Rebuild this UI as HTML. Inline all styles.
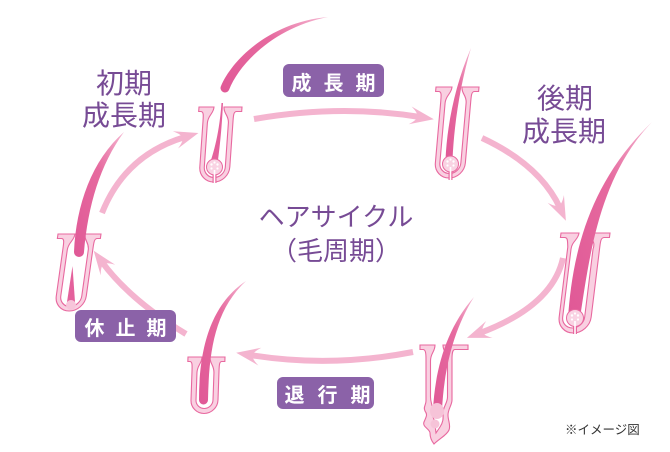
<!DOCTYPE html>
<html><head><meta charset="utf-8">
<style>
html,body{margin:0;padding:0;background:#fff;width:670px;height:452px;overflow:hidden}
svg{display:block}
text{font-family:"Liberation Sans","Noto Sans CJK JP",sans-serif}
</style></head>
<body>
<svg width="670" height="452" viewBox="0 0 670 452" xmlns="http://www.w3.org/2000/svg">
<defs>
  <linearGradient id="hg" x1="0" y1="1" x2="1" y2="0">
    <stop offset="0" stop-color="#e05896"/>
    <stop offset="0.6" stop-color="#e66a9f"/>
    <stop offset="1" stop-color="#f5b6d1"/>
  </linearGradient>
  <marker id="ah" viewBox="0 0 26 20" refX="12" refY="10" markerWidth="26" markerHeight="20" markerUnits="userSpaceOnUse" orient="auto">
    <path d="M26,10 L2,1 Q10,7 9,10 Q10,13 2,19 Z" fill="#f4b4cf" stroke="none"/>
  </marker>
</defs>

<!-- arrows -->
<g fill="none" stroke="#f4b4cf" stroke-width="6" marker-end="url(#ah)">
  <path d="M 102,213 Q 125,155 185,137"/>
  <path d="M 254,119 Q 340,104 420,117"/>
  <path d="M 482,138 Q 540,165 560,208"/>
  <path d="M 563,258 C 555,295 520,318 480,333"/>
  <path d="M 413,352 Q 330,368 250,355"/>
  <path d="M 186,334 Q 130,300 102,262"/>
</g>

<!-- follicle bands -->
<g fill="#f9d0e1" stroke="#e8689f" stroke-width="1.1">
  <g transform="translate(219,107) skewX(-4)">
    <path d="M -20,0 H -5 C -5,7 -10.5,8 -10.5,16 V 60 A 10.5 10.5 0 0 0 10.5,60 V 16 C 10.5,8 5,7 5,0 H 23 V 4.5 H 18 C 15,4.5 15,8 15,14 V 60 A 15 15 0 0 1 -15,60 V 14 C -15,8 -15,4.5 -18,4.5 H -20 Z"/>
  </g>
  <g transform="translate(457,87) skewX(-5)">
    <path d="M -21,0 H -5 C -5,7 -10.5,8 -10.5,16 V 76 A 10.5 10.5 0 0 0 10.5,76 V 16 C 10.5,8 5,7 5,0 H 22 V 4.5 H 18 C 15,4.5 15,8 15,14 V 76 A 15 15 0 0 1 -15,76 V 14 C -15,8 -15,4.5 -18,4.5 H -21 Z"/>
  </g>
  <g transform="translate(585,233) skewX(-7)">
    <path d="M -24,0 H -6 C -6,7 -12,8 -12,16 V 84 A 11 11 0 0 0 10,84 V 16 C 12,8 6,7 6,0 H 25 V 4.5 H 20 C 16.5,4.5 16.5,8 16.5,14 V 84 A 15.5 15.5 0 0 1 -15.5,84 V 14 C -16.5,8 -16.5,4.5 -20,4.5 H -24 Z"/>
  </g>
  <g transform="translate(439,345)">
    <path d="M -19,0 H -4 C -4,7 -8.5,8 -8.5,16 V 52 C -8.5,58 -6,60 -7,65 C -8,70 -4,74 -4,80 L -3,88 L 1,82 C 5,76 4,72 4,68 C 4,62 8.5,58 8.5,52 V 16 C 8.5,8 4,7 4,0 H 29 V 4.5 H 16 C 13.5,4.5 13,8 13,14 V 55 C 13,60 9,64 9,70 C 9,76 12,80 10,85 C 8,90 0,94 -5,99 C -9,94 -9,90 -9,88 C -9,84 -17,82 -15,77 C -13,72 -11,70 -14,66 C -16,62 -13,60 -13,56 V 14 C -13,8 -13.5,4.5 -16,4.5 H -19 Z"/>
  </g>
  <g transform="translate(206,357) skewX(-2)">
    <path d="M -18,0 H -4 C -4,7 -8.5,8 -8.5,16 V 43 A 8.5 8.5 0 0 0 8.5,43 V 16 C 8.5,8 4,7 4,0 H 19 V 4.5 H 16 C 13.5,4.5 13.5,8 13.5,14 V 43 A 13.5 13.5 0 0 1 -13.5,43 V 14 C -13.5,8 -13.5,4.5 -16,4.5 H -18 Z"/>
  </g>
  <g transform="translate(80,234) skewX(-8)">
    <path d="M -22,0 H -5 C -5,7 -10.5,8 -10.5,16 V 62 A 10.5 10.5 0 0 0 10.5,62 V 16 C 10.5,8 5,7 5,0 H 21 V 4.5 H 18 C 15,4.5 15,8 15,14 V 62 A 15 15 0 0 1 -15,62 V 14 C -15,8 -15,4.5 -18,4.5 H -22 Z"/>
  </g>
</g>

<!-- hairs -->
<g fill="url(#hg)">
  <path d="M 221,86 C 232,60 270,22 328,17 C 276,27 240,62 229,90 A 4.2 4.2 0 0 1 221,86 Z"/>
  <path d="M 221.5,103 C 220,125 216,145 211,160 L 218,160 C 220,145 222,125 223,103 Z" fill="#e4619c"/>
  <path d="M 445.5,160 C 447,125 455,85 471,48 C 460,85 454,125 452.5,160 Z"/>
  <path d="M 568,318 C 572,262 585,186 652,122 C 600,176 590,252 580,318 Z"/>
  <path d="M 433,410 C 435,372 445,330 474,297 C 452,332 444,372 442,410 Z"/>
  <path d="M 199,400 C 199,350 210,305 246,281 C 215,310 209,350 208,400 A 4.5 4.5 0 0 1 199,400 Z"/>
  <path d="M 74,252 C 76,205 92,160 124,132 C 100,165 88,205 84,252 A 5 5 0 0 1 74,252 Z"/>
  <path d="M 67,302 L 72.5,266 L 75,302 Z" fill="#e4619c"/>
</g>

<!-- bulbs -->
<g>
  <g transform="translate(214.5,167)">
    <line x1="0" y1="3" x2="0" y2="16" stroke="#e8689f" stroke-width="4"/>
    <circle r="8" fill="#f9d3e3" stroke="#e8689f" stroke-width="1"/>
    <line x1="0" y1="3" x2="0" y2="16" stroke="#fff" stroke-width="1.6"/>
    <g fill="#fff"><circle cx="-3" cy="-2.5" r="1.2"/><circle cx="3" cy="-2.5" r="1.2"/><circle cx="0" cy="-4.5" r="1.1"/><circle cx="-3" cy="1.5" r="1.1"/><circle cx="3" cy="1.5" r="1.1"/></g>
  </g>
  <g transform="translate(450.5,164)">
    <line x1="0" y1="3" x2="0" y2="16" stroke="#e8689f" stroke-width="4"/>
    <circle r="8" fill="#f9d3e3" stroke="#e8689f" stroke-width="1"/>
    <line x1="0" y1="3" x2="0" y2="16" stroke="#fff" stroke-width="1.6"/>
    <g fill="#fff"><circle cx="-3" cy="-2.5" r="1.2"/><circle cx="3" cy="-2.5" r="1.2"/><circle cx="0" cy="-4.5" r="1.1"/><circle cx="-3" cy="1.5" r="1.1"/><circle cx="3" cy="1.5" r="1.1"/></g>
  </g>
  <g transform="translate(575,318)">
    <line x1="0" y1="3" x2="0" y2="16" stroke="#e8689f" stroke-width="4"/>
    <circle r="8.5" fill="#f9d3e3" stroke="#e8689f" stroke-width="1"/>
    <line x1="0" y1="3" x2="0" y2="16" stroke="#fff" stroke-width="1.6"/>
    <g fill="#fff"><circle cx="-3" cy="-2.5" r="1.2"/><circle cx="3" cy="-2.5" r="1.2"/><circle cx="0" cy="-4.5" r="1.1"/><circle cx="-3" cy="1.5" r="1.1"/><circle cx="3" cy="1.5" r="1.1"/></g>
  </g>
  <ellipse cx="437" cy="411" rx="7" ry="8" fill="#f6c3d8"/>
  <circle cx="435" cy="424" r="4.5" fill="#f6c3d8"/>
  <circle cx="71" cy="305" r="5" fill="#f7c5da"/>
</g>

<!-- labels -->
<g fill="#774b95" font-size="28" text-anchor="middle">
  <text x="124" y="93">初期</text>
  <text x="124" y="125">成長期</text>
  <text x="565" y="108">後期</text>
  <text x="564" y="141">成長期</text>
</g>
<g fill="#774b95" font-size="26" text-anchor="middle">
  <text x="336" y="226">ヘアサイクル</text>
  <text x="336" y="260">（毛周期）</text>
</g>

<!-- badges -->
<rect x="283" y="64" width="101" height="33" rx="6" fill="#8b62a8"/>
<text x="339.5" y="90" font-size="20" font-weight="bold" fill="#fff" letter-spacing="12" text-anchor="middle">成長期</text>
<rect x="277" y="377" width="97" height="32" rx="6" fill="#8b62a8"/>
<text x="334" y="402" font-size="20" font-weight="bold" fill="#fff" letter-spacing="13" text-anchor="middle">退行期</text>
<rect x="75" y="310" width="101" height="32" rx="6" fill="#8b62a8"/>
<text x="131" y="335" font-size="20" font-weight="bold" fill="#fff" letter-spacing="11" text-anchor="middle">休止期</text>

<text x="565" y="434" font-size="12.5" fill="#333">※イメージ図</text>
</svg>
</body></html>
